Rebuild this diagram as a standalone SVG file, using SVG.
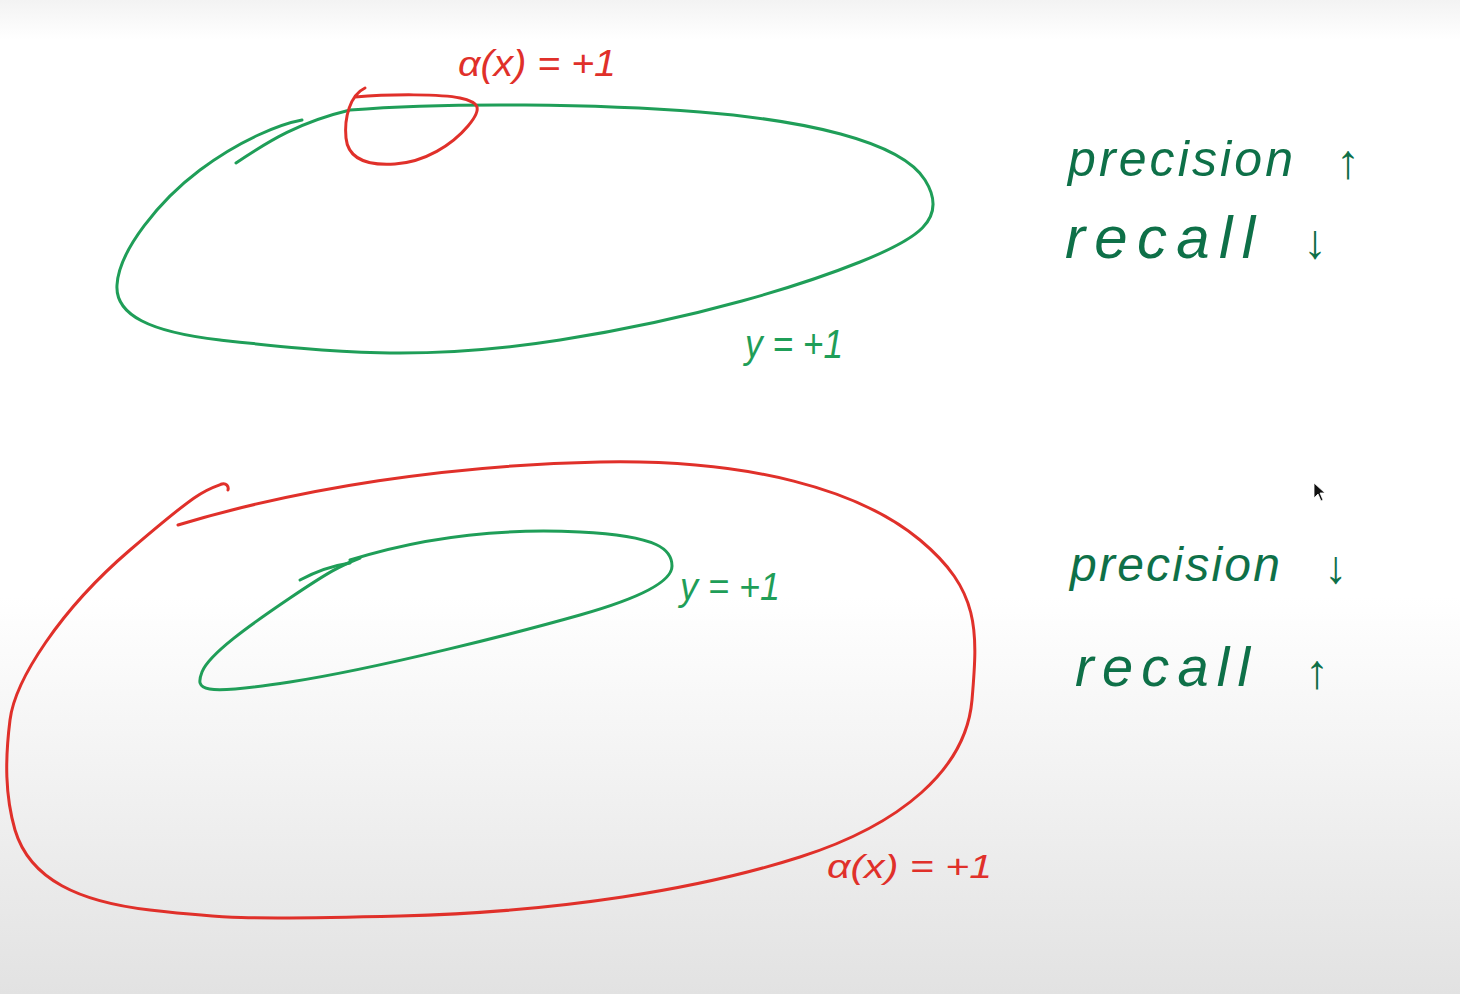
<svg xmlns="http://www.w3.org/2000/svg" width="1460" height="994" viewBox="0 0 1460 994">
  <defs>
    <linearGradient id="bg" x1="0" y1="0" x2="0" y2="1">
      <stop offset="0" stop-color="#f3f3f3"/>
      <stop offset="0.04" stop-color="#ffffff"/>
      <stop offset="0.6" stop-color="#ffffff"/>
      <stop offset="1" stop-color="#e2e2e2"/>
    </linearGradient>
    <style>
      .g { fill: none; stroke: #1f9e58; stroke-width: 3; stroke-linecap: round; stroke-linejoin: round; }
      .r { fill: none; stroke: #e0302a; stroke-width: 3; stroke-linecap: round; stroke-linejoin: round; }
      .tg { fill: #0e7048; font-family: "Liberation Sans", "DejaVu Sans", sans-serif; font-style: italic; }
      .tgl { fill: #1f9e58; font-family: "Liberation Sans", "DejaVu Sans", sans-serif; font-style: italic; }
      .tr { fill: #e0302a; font-family: "Liberation Sans", "DejaVu Sans", sans-serif; font-style: italic; }
    </style>
  </defs>
  <rect width="1460" height="994" fill="url(#bg)"/>

  <g id="top-y-region">
    <path class="g" d="M236,163 C270,140 300,122 350,110 C450,102 600,104 700,112 S900,140 925,180 S915,240 860,262 S700,318 560,340 S330,352 220,340 C150,332 115,315 117,285 C119,250 160,200 200,170 S280,124 302,120"/>
    <text class="tgl" x="745" y="358" font-size="40" textLength="98" lengthAdjust="spacingAndGlyphs">y = +1</text>
  </g>

  <g id="top-a-region">
    <path class="r" d="M365,88 C350,95 344,118 346,138 S365,166 395,164 S452,145 468,126 S478,102 460,98 S390,94 355,97"/>
    <text class="tr" x="458" y="76" font-size="36" textLength="158" lengthAdjust="spacingAndGlyphs">α(x) = +1</text>
  </g>

  <g id="bottom-a-region">
    <path class="r" d="M178,525 C300,488 450,465 600,462 S860,490 920,540 S978,630 972,700 C966,770 900,825 800,857 S560,912 400,916 S220,918 150,910 C80,902 30,880 15,830 C5,795 5,760 10,720 S60,610 130,550 S205,490 222,484 C226,483 229,486 228,490"/>
    <text class="tr" x="827" y="878" font-size="34" textLength="165" lengthAdjust="spacingAndGlyphs">α(x) = +1</text>
  </g>

  <g id="bottom-y-region">
    <path class="g" d="M300,580 C315,572 330,566 350,563"/>
    <path class="g" d="M350,560 C420,538 500,528 580,532 S672,550 672,566 S640,598 580,615 S380,668 290,682 S195,690 202,672 S250,625 290,598 S340,566 360,558"/>
    <text class="tgl" x="680" y="600" font-size="38" textLength="100" lengthAdjust="spacingAndGlyphs">y = +1</text>
  </g>

  <g id="top-labels">
    <text class="tg" x="1068" y="176" font-size="50" textLength="225" lengthAdjust="spacing">precision</text>
    <text class="tg" x="1336" y="178" font-size="48">↑</text>
    <text class="tg" x="1065" y="258" font-size="60" textLength="190" lengthAdjust="spacing">recall</text>
    <text class="tg" x="1303" y="258" font-size="48">↓</text>
  </g>

  <g id="bottom-labels">
    <text class="tg" x="1070" y="581" font-size="48" textLength="210" lengthAdjust="spacing">precision</text>
    <text class="tg" x="1324" y="583" font-size="46">↓</text>
    <text class="tg" x="1075" y="686" font-size="56" textLength="175" lengthAdjust="spacing">recall</text>
    <text class="tg" x="1305" y="688" font-size="48">↑</text>
  </g>

  <g id="cursor">
    <path d="M1314,483 L1314,498 L1318,494 L1321,501 L1323,500 L1320,493 L1325,493 Z" fill="#111" stroke="#fff" stroke-width="0.8"/>
  </g>
</svg>
